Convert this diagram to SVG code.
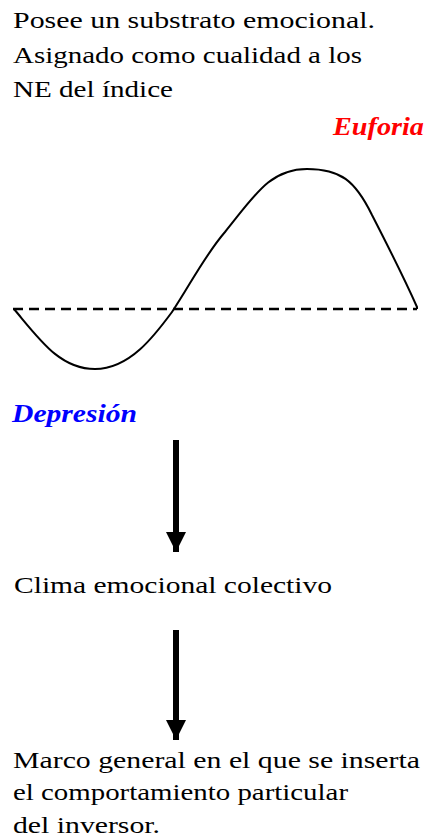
<svg xmlns="http://www.w3.org/2000/svg" width="427" height="838" viewBox="0 0 427 838">
<style>
.t{font-family:"Liberation Serif","Times New Roman",serif;font-size:24px;fill:#000;}
.lbl{font-family:"Liberation Serif","Times New Roman",serif;font-size:25px;font-style:italic;font-weight:bold;}
.conn{stroke:#000;stroke-width:6;fill:none;}
</style>
<defs>
<marker id="ah" markerWidth="20" markerHeight="20" refX="20" refY="10" viewBox="0 0 20 20" markerUnits="userSpaceOnUse" orient="auto">
<path d="M0,0 L20,10 L0,20 Z" fill="#000"/>
</marker>
</defs>
<rect width="427" height="838" fill="#fff"/>
<g id="intro">
<text class="t" x="13" y="28" textLength="362" lengthAdjust="spacingAndGlyphs">Posee un substrato emocional.</text>
<text class="t" x="13" y="63" textLength="349" lengthAdjust="spacingAndGlyphs">Asignado como cualidad a los</text>
<text class="t" x="13" y="97" textLength="160" lengthAdjust="spacingAndGlyphs">NE del índice</text>
</g>
<g id="chart">
<text class="lbl" x="333" y="135" fill="#ff0000" textLength="91" lengthAdjust="spacingAndGlyphs">Euforia</text>
<line x1="13" y1="309" x2="417" y2="309" stroke="#000" stroke-width="2.5" stroke-dasharray="10,6"/>
<path d="M14,309 C40,340 60,369 95,369 C130,369 155,335 172,312 C190,285 205,255 225,232 C255,195 270,169 307,169 C340,169 355,180 372,215 C390,250 405,280 417,307 L417,309" fill="none" stroke="#000" stroke-width="2"/>
<text class="lbl" x="12" y="422" fill="#0000ff" textLength="125" lengthAdjust="spacingAndGlyphs">Depresión</text>
</g>
<g id="clima">
<text class="t" x="14" y="593" textLength="318" lengthAdjust="spacingAndGlyphs">Clima emocional colectivo</text>
</g>
<g id="marco">
<text class="t" x="13" y="768" textLength="407" lengthAdjust="spacingAndGlyphs">Marco general en el que se inserta</text>
<text class="t" x="13" y="800" textLength="335" lengthAdjust="spacingAndGlyphs">el comportamiento particular</text>
<text class="t" x="13" y="833" textLength="147" lengthAdjust="spacingAndGlyphs">del inversor.</text>
</g>
<g id="connectors">
<line class="conn" x1="176" y1="440" x2="176" y2="552" marker-end="url(#ah)"/>
<line class="conn" x1="176" y1="630" x2="176" y2="740" marker-end="url(#ah)"/>
</g>
</svg>
